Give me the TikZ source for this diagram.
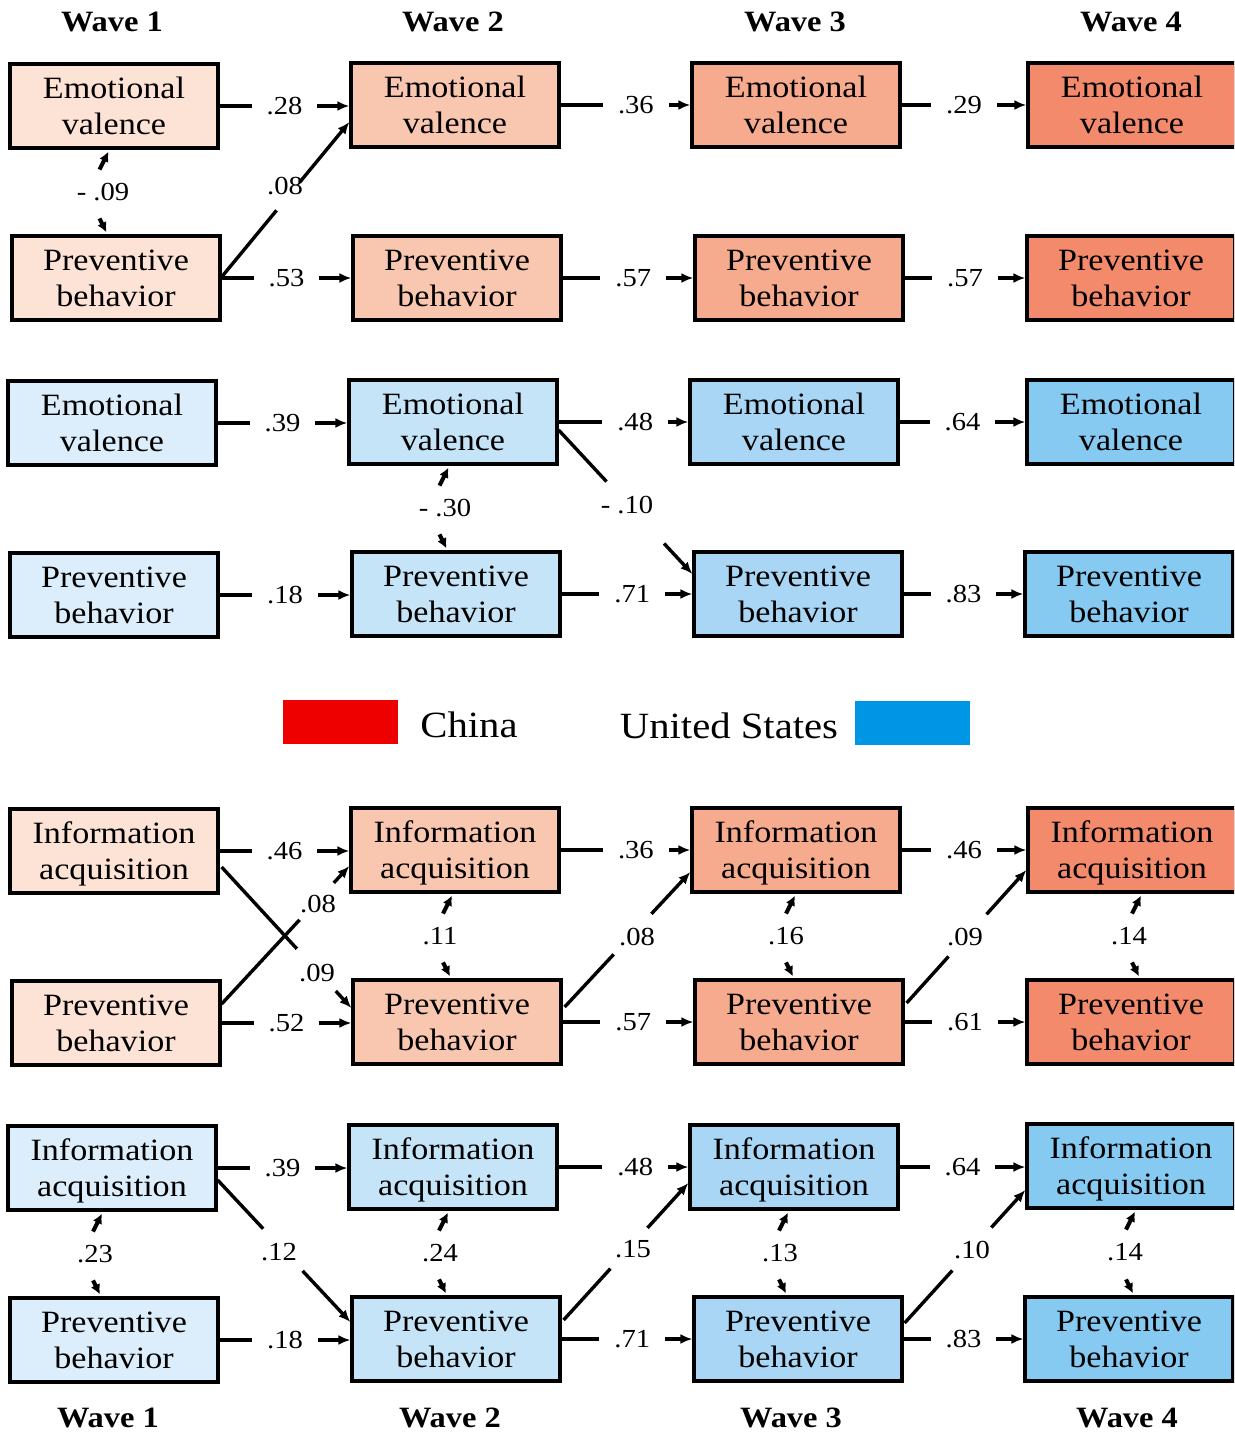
\documentclass[tikz,border=0pt]{standalone}
\usepackage{fontspec}
\setmainfont{Liberation Serif}[FakeStretch=1.1]
\usetikzlibrary{calc,arrows.meta}
\definecolor{cA}{HTML}{FDE2D6}
\definecolor{cB}{HTML}{F9C6B0}
\definecolor{cC}{HTML}{F6AA8E}
\definecolor{cD}{HTML}{F38A6C}
\definecolor{uA}{HTML}{DCEEFB}
\definecolor{uB}{HTML}{C5E4F8}
\definecolor{uC}{HTML}{A8D6F4}
\definecolor{uD}{HTML}{86C9F1}
\definecolor{legred}{HTML}{EE0000}
\definecolor{legblue}{HTML}{0096E6}
\newcommand\boxfont{\fontsize{31}{36}\selectfont}
\newcommand\numfont{\fontsize{26}{30}\selectfont}
\newcommand\wavefont{\fontsize{29.5}{32}\selectfont\bfseries}
\newcommand\legfont{\fontsize{37}{40}\selectfont}
\newcommand\covar[5]{%
  \coordinate (cvx) at (#3,0);
  \coordinate (cvl) at (#4,0);
  \draw[covarr] ($(cvx |- #1.south)+(-5,20)$) -- ($(cvx |- #1.south)+(4,2)$);
  \draw[covarr] ($(cvx |- #2.north)+(-5,-16)$) -- ($(cvx |- #2.north)+(2,-2)$);
  \node[lbl] (cov#1) at ($(cvl |- #1.south)!0.5!(cvl |- #2.north)$) {#5};}
\newcommand\diagarrow[4]{%
  \draw[conn] (#1) -- ($(#1)!#3!(#2)$);
  \draw[arr] ($(#1)!#4!(#2)$) -- (#2);}
\begin{document}
\begin{tikzpicture}[x=1pt,y=-1pt,
  box/.style={draw=black, line width=3.2pt, minimum width=208pt, minimum height=84pt,
    inner sep=0pt, align=center, font=\boxfont, text depth=0pt},
  conn/.style={line width=3.4pt},
  arr/.style={conn, -{Latex[length=12pt,width=10pt]}},
  num/.style={font=\numfont, fill=white, inner xsep=15pt, inner ysep=2pt},
  lbl/.style={font=\numfont, inner sep=0pt},
  covarr/.style={line width=4pt, -{Latex[length=10pt,width=10pt]}},
  wave/.style={font=\wavefont, inner sep=0pt},
  legtext/.style={font=\legfont, inner sep=0pt},
  legbox/.style={draw=none, minimum width=115pt, minimum height=44pt, inner sep=0pt}
]
\clip (0,0) rectangle (1234,1432);
\fill[white] (0,0) rectangle (1234,1432);

% wave labels
\node[wave] (wt1) at (112,22) {Wave 1};
\node[wave] (wt2) at (453,22) {Wave 2};
\node[wave] (wt3) at (795,22) {Wave 3};
\node[wave] (wt4) at (1131,22) {Wave 4};
\node[wave] (wb1) at (108,1418) {Wave 1};
\node[wave] (wb2) at (450,1418) {Wave 2};
\node[wave] (wb3) at (791,1418) {Wave 3};
\node[wave] (wb4) at (1127,1418) {Wave 4};

% row 1: China emotional valence
\node[box, fill=cA] (b11) at (114,106) {Emotional\\valence};
\node[box, fill=cB] (b12) at (455,105) {Emotional\\valence};
\node[box, fill=cC] (b13) at (796,105) {Emotional\\valence};
\node[box, fill=cD] (b14) at (1132,105) {Emotional\\valence};
% row 2: China preventive behavior
\node[box, fill=cA] (b21) at (116,278) {Preventive\\behavior};
\node[box, fill=cB] (b22) at (457,278) {Preventive\\behavior};
\node[box, fill=cC] (b23) at (799,278) {Preventive\\behavior};
\node[box, fill=cD] (b24) at (1131,278) {Preventive\\behavior};
% row 3: US emotional valence
\node[box, fill=uA] (b31) at (112,423) {Emotional\\valence};
\node[box, fill=uB] (b32) at (453,422) {Emotional\\valence};
\node[box, fill=uC] (b33) at (794,422) {Emotional\\valence};
\node[box, fill=uD] (b34) at (1131,422) {Emotional\\valence};
% row 4: US preventive behavior
\node[box, fill=uA] (b41) at (114,595) {Preventive\\behavior};
\node[box, fill=uB] (b42) at (456,594) {Preventive\\behavior};
\node[box, fill=uC] (b43) at (798,594) {Preventive\\behavior};
\node[box, fill=uD] (b44) at (1129,594) {Preventive\\behavior};
% row 5: China information acquisition
\node[box, fill=cA] (b51) at (114,851) {Information\\acquisition};
\node[box, fill=cB] (b52) at (455,850) {Information\\acquisition};
\node[box, fill=cC] (b53) at (796,850) {Information\\acquisition};
\node[box, fill=cD] (b54) at (1132,850) {Information\\acquisition};
% row 6: China preventive behavior
\node[box, fill=cA] (b61) at (116,1023) {Preventive\\behavior};
\node[box, fill=cB] (b62) at (457,1022) {Preventive\\behavior};
\node[box, fill=cC] (b63) at (799,1022) {Preventive\\behavior};
\node[box, fill=cD] (b64) at (1131,1022) {Preventive\\behavior};
% row 7: US information acquisition
\node[box, fill=uA] (b71) at (112,1168) {Information\\acquisition};
\node[box, fill=uB] (b72) at (453,1167) {Information\\acquisition};
\node[box, fill=uC] (b73) at (794,1167) {Information\\acquisition};
\node[box, fill=uD] (b74) at (1131,1166) {Information\\acquisition};
% row 8: US preventive behavior
\node[box, fill=uA] (b81) at (114,1340) {Preventive\\behavior};
\node[box, fill=uB] (b82) at (456,1339) {Preventive\\behavior};
\node[box, fill=uC] (b83) at (798,1339) {Preventive\\behavior};
\node[box, fill=uD] (b84) at (1129,1339) {Preventive\\behavior};

% horizontal paths
\foreach \r/\la/\lb/\lc/\pb in {1/.28/.36/.29/0.58, 2/.53/.57/.57/0.54, 3/.39/.48/.64/0.59, 4/.18/.71/.83/0.54,
                               5/.46/.36/.46/0.58, 6/.52/.57/.61/0.54, 7/.39/.48/.64/0.59, 8/.18/.71/.83/0.54}{
  \draw[arr] (b\r1.east) -- node[num, pos=0.5] {\la} (b\r1.east -| b\r2.west);
  \draw[arr] (b\r2.east) -- node[num, pos=\pb] {\lb} (b\r2.east -| b\r3.west);
  \draw[arr] (b\r3.east) -- node[num, pos=0.5] {\lc} (b\r3.east -| b\r4.west);
}

% covariances
\covar{b11}{b21}{104.5}{103}{- .09}
\covar{b32}{b42}{444.5}{445}{- .30}
\covar{b52}{b62}{448}{440}{.11}
\covar{b53}{b63}{791}{786}{.16}
\covar{b54}{b64}{1137}{1129}{.14}
\covar{b71}{b81}{98}{95}{.23}
\covar{b72}{b82}{444}{440}{.24}
\covar{b73}{b83}{784}{780}{.13}
\covar{b74}{b84}{1131}{1125}{.14}

% cross-lagged paths
\coordinate (s1) at ($(b21.east)+(0,-1)$);  \coordinate (e1) at ($(b12.west)+(0,17)$);
\diagarrow{s1}{e1}{0.43}{0.61}
\node[lbl] (d1) at (285,186) {.08};
\coordinate (s2) at ($(b32.east)+(0,8)$);   \coordinate (e2) at ($(b43.west)+(0,-20)$);
\diagarrow{s2}{e2}{0.358}{0.788}
\node[lbl] (d2) at (627,505) {- .10};
\coordinate (s3) at ($(b51.east)+(2,16)$);  \coordinate (e3) at ($(b62.west)+(0,-14)$);
\diagarrow{s3}{e3}{0.58}{0.88}
\node[lbl] (d3) at (317,973) {.09};
\coordinate (s4) at ($(b61.east)+(0,-19)$); \coordinate (e4) at ($(b52.west)+(0,16)$);
\diagarrow{s4}{e4}{0.61}{0.878}
\node[lbl] (d4) at (318,904) {.08};
\coordinate (s5) at ($(b62.east)+(2,-15)$); \coordinate (e5) at ($(b53.west)+(0,22)$);
\diagarrow{s5}{e5}{0.39}{0.69}
\node[lbl] (d5) at (637,937) {.08};
\coordinate (s6) at ($(b63.east)+(2,-19)$); \coordinate (e6) at ($(b54.west)+(0,20)$);
\diagarrow{s6}{e6}{0.35}{0.667}
\node[lbl] (d6) at (965,937) {.09};
\coordinate (s7) at ($(b71.east)+(0,12)$);  \coordinate (e7) at ($(b82.west)+(0,-17)$);
\diagarrow{s7}{e7}{0.343}{0.64}
\node[lbl] (d7) at (279,1252) {.12};
\coordinate (s8) at ($(b82.east)+(2,-19)$); \coordinate (e8) at ($(b73.west)+(0,16)$);
\diagarrow{s8}{e8}{0.375}{0.672}
\node[lbl] (d8) at (633,1249) {.15};
\coordinate (s9) at ($(b83.east)+(1,-16)$); \coordinate (e9) at ($(b74.west)+(0,24)$);
\diagarrow{s9}{e9}{0.395}{0.718}
\node[lbl] (d9) at (972,1250) {.10};

% legend
\node[legbox, fill=legred] (legr) at (340.5,722) {};
\node[legtext] (legc) at (469,725) {China};
\node[legtext] (legu) at (729,726) {United States};
\node[legbox, fill=legblue] (legb) at (912.5,723) {};
\end{tikzpicture}
\end{document}
